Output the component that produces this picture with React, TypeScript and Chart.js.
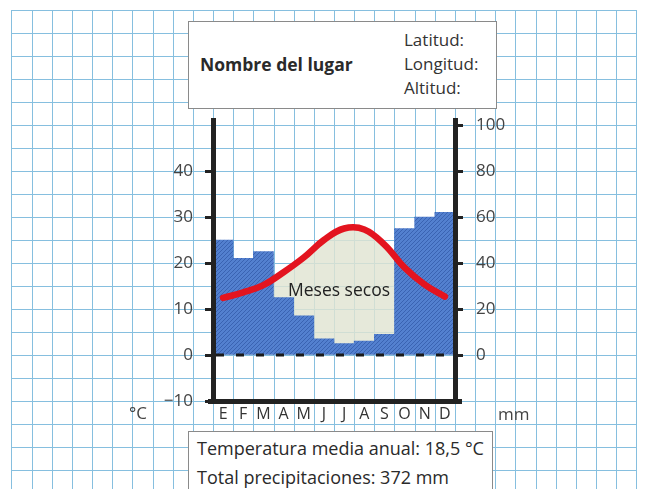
import React, { useEffect, useRef } from 'react';
import { Chart, registerables } from 'chart.js';

Chart.register(...registerables);

// ---- data ----
const months = ['E', 'F', 'M', 'A', 'M', 'J', 'J', 'A', 'S', 'O', 'N', 'D'];
const precipitation = [50, 42, 45, 25, 17, 7, 5, 6, 9, 55, 60, 62]; // mm
const temperature = [12.4, 13.6, 15.2, 18, 21.2, 25, 27.5, 27.3, 24, 19, 15.3, 12.7]; // °C
const tempTicks = [-10, 0, 10, 20, 30, 40];
const precipTicks = [0, 20, 40, 60, 80, 100];
const placeName = 'Nombre del lugar';
const coordLabels = ['Latitud:', 'Longitud:', 'Altitud:'];
const summaryLines = ['Temperatura media anual: 18,5 °C', 'Total precipitaciones: 372 mm'];
const dryLabel = 'Meses secos';

const FONT = "'Open Sans', 'Noto Sans', sans-serif";
const TEXT = '#2a2a2a';

function makePattern(base: string, stripe: string): CanvasPattern | string {
  const c = document.createElement('canvas');
  c.width = 4;
  c.height = 4;
  const g = c.getContext('2d');
  if (!g) return base;
  g.fillStyle = base;
  g.fillRect(0, 0, 4, 4);
  g.strokeStyle = stripe;
  g.lineWidth = 1;
  g.beginPath();
  g.moveTo(0, 4);
  g.lineTo(4, 0);
  g.moveTo(-1, 1);
  g.lineTo(1, -1);
  g.moveTo(3, 5);
  g.lineTo(5, 3);
  g.stroke();
  const p = g.createPattern(c, 'repeat');
  return p || base;
}

const paperPlugin = {
  id: 'paper',
  beforeDraw(chart: any) {
    const { ctx, chartArea, scales } = chart;
    const x = scales.x;
    const y = scales.y;
    ctx.save();
    ctx.fillStyle = '#ffffff';
    ctx.fillRect(0, 0, chart.width, chart.height);
    const xStep = x.getPixelForValue(1) - x.getPixelForValue(0);
    const y0 = y.getPixelForValue(0);
    const yStep = y0 - y.getPixelForValue(5);
    const xs: number[] = [];
    for (let k = -14; k <= 26; k++) {
      const px = chartArea.left + k * xStep;
      if (px >= 9 && px <= 640) xs.push(px);
    }
    const ys: number[] = [];
    for (let k = -20; k <= 10; k++) {
      const py = y0 + k * yStep;
      if (py >= 8 && py <= chart.height + 1) ys.push(py);
    }
    const left = xs[0];
    const right = xs[xs.length - 1];
    const top = ys[0];
    ctx.lineWidth = 1;
    ctx.strokeStyle = '#86bfdf';
    ctx.beginPath();
    xs.forEach((px) => {
      const a = Math.round(px) + 0.5;
      ctx.moveTo(a, Math.round(top));
      ctx.lineTo(a, chart.height);
    });
    ys.forEach((py) => {
      const b = Math.round(py) + 0.5;
      ctx.moveTo(Math.round(left), b);
      ctx.lineTo(Math.round(right) + 1, b);
    });
    ctx.stroke();
    ctx.restore();
  },
  afterDatasetsDraw(chart: any) {
    const { ctx, chartArea, scales } = chart;
    const zero = scales.y2.getPixelForValue(0);
    ctx.save();
    ctx.strokeStyle = '#1a1a1a';
    ctx.lineWidth = 3;
    ctx.setLineDash([8, 12]);
    ctx.beginPath();
    ctx.moveTo(chartArea.left + 3, zero);
    ctx.lineTo(chartArea.right - 2, zero);
    ctx.stroke();
    ctx.restore();
  },
  afterDraw(chart: any) {
    const { ctx, chartArea } = chart;
    ctx.save();
    ctx.strokeStyle = '#222';
    ctx.lineWidth = 5;
    ctx.beginPath();
    ctx.moveTo(chartArea.left - 5, chartArea.bottom + 0.5);
    ctx.lineTo(chartArea.right + 7, chartArea.bottom + 0.5);
    ctx.stroke();
    ctx.restore();
  },
};

export default function App() {
  const canvasRef = useRef<HTMLCanvasElement | null>(null);

  useEffect(() => {
    const canvas = canvasRef.current;
    if (!canvas) return;
    const barFill = makePattern('#5380cf', '#3a63b2');
    const chart = new Chart(canvas, {
      type: 'bar',
      data: {
        labels: months,
        datasets: [
          {
            type: 'line',
            label: 'Temperatura',
            data: temperature,
            yAxisID: 'y',
            borderColor: '#e3141f',
            borderWidth: 6.5,
            borderCapStyle: 'round',
            borderJoinStyle: 'round',
            tension: 0.4,
            pointRadius: 0,
            fill: false,
            order: 0,
          } as any,
          {
            type: 'bar',
            label: 'Precipitaciones',
            data: precipitation,
            yAxisID: 'y2',
            backgroundColor: barFill as any,
            borderWidth: 0,
            barPercentage: 1,
            categoryPercentage: 1,
            order: 1,
          } as any,
          {
            type: 'line',
            label: 'Meses secos',
            data: temperature,
            yAxisID: 'y',
            borderWidth: 0,
            borderColor: 'rgba(0,0,0,0)',
            pointRadius: 0,
            tension: 0.4,
            fill: 'origin',
            backgroundColor: 'rgba(224,228,210,0.82)',
            order: 2,
          } as any,
        ],
      },
      options: {
        responsive: false,
        animation: false,
        devicePixelRatio: 1,
        layout: { padding: { top: 120.4, left: 0, right: 0, bottom: 0 } },
        plugins: { legend: { display: false }, tooltip: { enabled: false } },
        scales: {
          x: {
            grid: { display: false, drawTicks: false },
            border: { display: false },
            ticks: {
              font: { family: FONT, size: 16 },
              color: '#333',
              padding: 4,
              maxRotation: 0,
              autoSkip: false,
            },
            afterFit: (s: any) => {
              s.height = 88;
            },
          },
          y: {
            position: 'left',
            min: -10,
            max: 51,
            afterBuildTicks: (s: any) => {
              s.ticks = tempTicks.map((v) => ({ value: v }));
            },
            grid: {
              display: true,
              drawOnChartArea: false,
              drawTicks: true,
              tickLength: 8,
              tickWidth: 3,
              tickColor: '#222',
            },
            border: { display: true, width: 5, color: '#222', z: 1 },
            ticks: {
              font: { family: FONT, size: 17 },
              color: '#444',
              padding: 12,
              callback: (v: any) => (Number(v) < 0 ? '\u2212' + Math.abs(Number(v)) : String(v)),
            },
            afterFit: (s: any) => {
              s.width = 213;
            },
          },
          y2: {
            position: 'right',
            min: -20,
            max: 102,
            afterBuildTicks: (s: any) => {
              s.ticks = precipTicks.map((v) => ({ value: v }));
            },
            grid: {
              display: true,
              drawOnChartArea: false,
              drawTicks: true,
              tickLength: 8,
              tickWidth: 3,
              tickColor: '#222',
            },
            border: { display: true, width: 5, color: '#222', z: 1 },
            ticks: {
              font: { family: FONT, size: 17 },
              color: '#444',
              padding: 13,
            },
            afterFit: (s: any) => {
              s.width = 191;
            },
          },
        },
      } as any,
      plugins: [paperPlugin],
    });
    return () => chart.destroy();
  }, []);

  const box: React.CSSProperties = {
    position: 'absolute',
    background: '#fff',
    border: '1px solid #8a8a8a',
    boxSizing: 'border-box',
    fontFamily: FONT,
    color: TEXT,
  };

  return (
    <div
      style={{
        position: 'fixed',
        left: 0,
        top: 0,
        width: 646,
        height: 489,
        overflow: 'hidden',
        background: '#fff',
      }}
    >
      <canvas
        ref={canvasRef}
        width={646}
        height={489}
        style={{ position: 'absolute', left: 0, top: 0, width: 646, height: 489 }}
      />
      <div style={{ ...box, left: 188, top: 21, width: 309, height: 88 }}>
        <div
          style={{
            position: 'absolute',
            left: 11,
            top: 30,
            fontSize: 17.5,
            fontWeight: 700,
            lineHeight: '24px',
            whiteSpace: 'nowrap',
          }}
        >
          {placeName}
        </div>
        <div
          style={{
            position: 'absolute',
            left: 215,
            top: 6,
            fontSize: 17,
            lineHeight: '24px',
            whiteSpace: 'nowrap',
            color: '#333',
          }}
        >
          {coordLabels.map((t, i) => (
            <div key={i}>{t}</div>
          ))}
        </div>
      </div>
      <div style={{ ...box, left: 188, top: 431, width: 305, height: 70 }}>
        <div
          style={{
            position: 'absolute',
            left: 8,
            top: 2,
            fontSize: 18,
            lineHeight: '29px',
            whiteSpace: 'nowrap',
          }}
        >
          {summaryLines.map((t, i) => (
            <div key={i}>{t}</div>
          ))}
        </div>
      </div>
      <div
        style={{
          position: 'absolute',
          left: 288,
          top: 277,
          fontFamily: FONT,
          fontSize: 17.5,
          lineHeight: '24px',
          color: '#222',
          whiteSpace: 'nowrap',
        }}
      >
        {dryLabel}
      </div>
      <div
        style={{
          position: 'absolute',
          left: 129,
          top: 401,
          fontFamily: FONT,
          fontSize: 17,
          lineHeight: '24px',
          color: '#444',
        }}
      >
        °C
      </div>
      <div
        style={{
          position: 'absolute',
          left: 498,
          top: 402,
          fontFamily: FONT,
          fontSize: 17,
          lineHeight: '24px',
          color: '#444',
        }}
      >
        mm
      </div>
    </div>
  );
}
